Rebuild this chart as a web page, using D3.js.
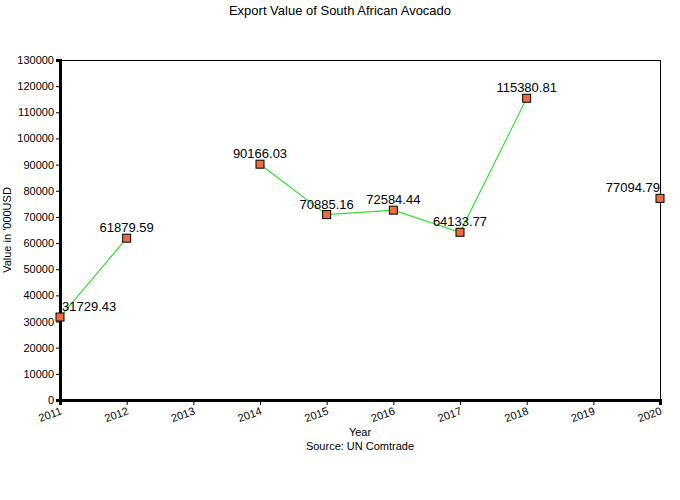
<!DOCTYPE html>
<html><head><meta charset="utf-8">
<script src="https://cdn.jsdelivr.net/npm/d3@7"></script>
<style>body{margin:0;background:#fff}text{font-family:"Liberation Sans",Arial,sans-serif}</style>
</head><body><svg id="c" width="680" height="500"></svg>
<script>
const years = [2011, 2012, 2013, 2014, 2015, 2016, 2017, 2018, 2019, 2020];
const values = [31729.43, 61879.59, null, 90166.03, 70885.16, 72584.44, 64133.77, 115380.81, null, 77094.79];
const yTicks = [0,10000,20000,30000,40000,50000,60000,70000,80000,90000,100000,110000,120000,130000];

const svg = d3.select("#c");
const L = 60, R = 660, T = 60, B = 400;
const x = d3.scaleLinear().domain([2011, 2020]).range([L, R]);
const y = d3.scaleLinear().domain([0, 130000]).range([B, T]);

svg.append("rect").attr("width",680).attr("height",500).attr("fill","#fff");
// frame
svg.append("line").attr("x1",L).attr("x2",R).attr("y1",T+0.5).attr("y2",T+0.5).attr("stroke","#000");
svg.append("line").attr("x1",R+0.5).attr("x2",R+0.5).attr("y1",T).attr("y2",B).attr("stroke","#000");

const ya = svg.append("g").attr("transform",`translate(${L},0)`)
  .call(d3.axisLeft(y).tickValues(yTicks).tickFormat(d3.format("d")).tickSize(4).tickPadding(2));
ya.select(".domain").attr("stroke-width",3);
ya.selectAll("text").attr("font-size",11).attr("fill","#000");

const xa = svg.append("g").attr("transform",`translate(0,${B})`)
  .call(d3.axisBottom(x).tickValues(years).tickFormat(d3.format("d")).tickSize(5));
xa.select(".domain").attr("stroke-width",3);
xa.selectAll("text").attr("font-size",11).attr("fill","#000")
  .attr("text-anchor","end").attr("y",0).attr("dy",0).attr("dx",0)
  .attr("transform","translate(2,14) rotate(-20)");

const pts = years.map((yr,i)=>({yr, v: values[i]}));
const line = d3.line().defined(d=>d.v!==null).x(d=>x(d.yr)).y(d=>y(d.v));
svg.append("path").datum(pts).attr("d",line).attr("fill","none").attr("stroke","#33e033").attr("stroke-width",1.2);

const valid = pts.filter(d=>d.v!==null);
svg.selectAll("rect.m").data(valid).enter().append("rect").attr("class","m")
  .attr("x",d=>x(d.yr)-4).attr("y",d=>y(d.v)-4).attr("width",8).attr("height",8)
  .attr("fill","#ef6a3e").attr("stroke","#000").attr("stroke-width",1);

svg.selectAll("text.lab").data(valid).enter().append("text").attr("class","lab")
  .attr("x",d=> d.yr===2011 ? x(d.yr)+2 : x(d.yr))
  .attr("y",d=>y(d.v)-6)
  .attr("text-anchor",d=> d.yr===2011 ? "start" : (d.yr===2020 ? "end" : "middle"))
  .attr("font-size",13).attr("fill","#000")
  .text(d=>d3.format(".2f")(d.v));

svg.append("text").attr("x",340).attr("y",15).attr("text-anchor","middle").attr("font-size",13).text("Export Value of South African Avocado");
svg.append("text").attr("x",360).attr("y",436).attr("text-anchor","middle").attr("font-size",11).text("Year");
svg.append("text").attr("x",360).attr("y",450).attr("text-anchor","middle").attr("font-size",11).text("Source: UN Comtrade");
svg.append("text").attr("transform","translate(11,230) rotate(-90)").attr("text-anchor","middle").attr("font-size",11).text("Value in '000USD");
</script></body></html>
